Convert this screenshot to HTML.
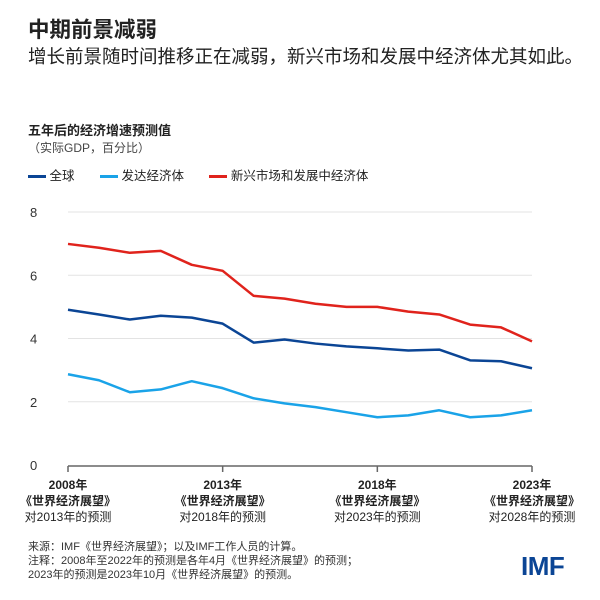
<!DOCTYPE html>
<html><head><meta charset="utf-8"><style>
body{margin:0;width:600px;height:600px;background:#fff;font-family:"Liberation Sans","Noto Sans CJK SC",sans-serif;color:#222;position:relative;overflow:hidden}
.t{position:absolute;white-space:nowrap}
</style></head><body>
<div class="t" style="left:28px;top:13px;font-size:21.5px;font-weight:bold">中期前景减弱</div>
<div class="t" style="left:28px;top:43px;font-size:18.5px">增长前景随时间推移正在减弱，新兴市场和发展中经济体尤其如此。</div>
<div class="t" style="left:28px;top:120px;font-size:13px;font-weight:bold">五年后的经济增速预测值</div>
<div class="t" style="left:28px;top:139px;font-size:12px;color:#444">（实际GDP，百分比）</div>
<div class="t" style="left:28px;top:165px;font-size:12.5px">
<span><span style="display:inline-block;width:18px;height:3px;background:#0b4595;vertical-align:middle"></span> 全球</span>
<span style="margin-left:22px"><span style="display:inline-block;width:18px;height:3px;background:#1aa3e8;vertical-align:middle"></span> 发达经济体</span>
<span style="margin-left:22px"><span style="display:inline-block;width:18px;height:3px;background:#e0231c;vertical-align:middle"></span> 新兴市场和发展中经济体</span>
</div>
<svg id="chart" width="600" height="600" style="position:absolute;left:0;top:0"></svg>
<div class="t" style="left:28px;top:540px;font-size:11px;line-height:14px;color:#333">来源：IMF《世界经济展望》；以及IMF工作人员的计算。<br>注释：2008年至2022年的预测是各年4月《世界经济展望》的预测；<br>2023年的预测是2023年10月《世界经济展望》的预测。</div>
<div class="t" style="left:521px;top:551px;font-size:26px;font-weight:bold;color:#0b4595;letter-spacing:-0.5px">IMF</div>
<script>
const years=[2008,2009,2010,2011,2012,2013,2014,2015,2016,2017,2018,2019,2020,2021,2022,2023];
const globalVals=[4.91,4.76,4.6,4.72,4.66,4.47,3.87,3.97,3.84,3.75,3.69,3.62,3.65,3.31,3.28,3.06];
const advancedVals=[2.87,2.68,2.3,2.39,2.65,2.43,2.11,1.95,1.83,1.67,1.51,1.57,1.73,1.51,1.57,1.73];
const emdeVals=[6.99,6.87,6.71,6.77,6.33,6.14,5.35,5.26,5.1,5.0,5.0,4.85,4.76,4.44,4.35,3.91];
const yTicks=[0,2,4,6,8];
const xTickYears=[2008,2013,2018,2023];
const xTickTargets=[2013,2018,2023,2028];
const ns="http://www.w3.org/2000/svg",svg=document.getElementById('chart');
const X=y=>68+(y-2008)*(532-68)/15, Y=v=>465-v*(465-212)/8;
function mk(t,a){const e=document.createElementNS(ns,t);for(const k in a)e.setAttribute(k,a[k]);svg.appendChild(e);return e;}
yTicks.forEach(v=>{
 if(v>0){const g=mk('line',{x1:68,x2:532,y1:Y(v),y2:Y(v),stroke:'#e3e3e3','stroke-width':1});
 
 }
 const t=mk('text',{x:30,y:Y(v)+5,'font-size':13,fill:'#333','font-family':'Liberation Sans'});t.textContent=v;
 
 
});
const ax=mk('line',{x1:68,x2:532,y1:466,y2:466,stroke:'#666','stroke-width':1.5});


xTickYears.forEach((yr,i)=>{
 const tk=mk('line',{x1:X(yr),x2:X(yr),y1:466,y2:472,stroke:'#666','stroke-width':1.5});
 
 
 const lines=[[yr+'年',true],['《世界经济展望》',true],['对'+xTickTargets[i]+'年的预测',false]];
 lines.forEach((l,j)=>{const t=mk('text',{x:X(yr),y:489+j*16,'font-size':12,'text-anchor':'middle',fill:'#222','font-weight':l[1]?'bold':'normal','font-family':'Liberation Sans, Noto Sans CJK SC, sans-serif'});t.textContent=l[0];
 
 });
});
[[advancedVals,'#1aa3e8','advanced-line'],[globalVals,'#0b4595','global-line'],[emdeVals,'#e0231c','emde-line']].forEach(([d,c,n])=>{
 const p=mk('polyline',{points:d.map((v,i)=>X(years[i])+','+Y(v)).join(' '),fill:'none',stroke:c,'stroke-width':2.5,'stroke-linejoin':'round'});
 
 
});
</script>
</body></html>
